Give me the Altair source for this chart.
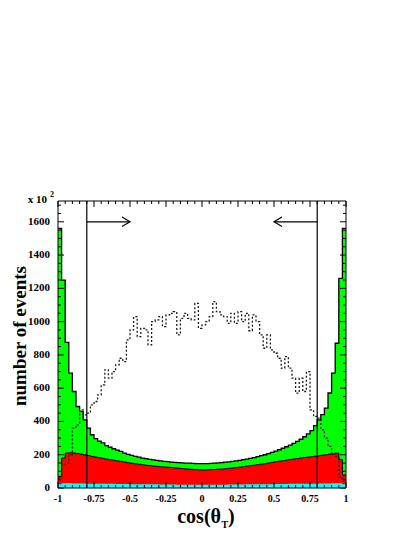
import altair as alt
import pandas as pd

# ---------------- data ----------------
n_bins = 80
x_lo, x_hi = -1.0, 1.0

total_green = [1560, 1250, 875, 690, 580, 490, 460, 410, 360, 320,
               297, 281, 271, 255, 245, 236, 228, 220, 210, 202,
               196, 190, 185, 180, 176, 172, 169, 166, 163, 160,
               158, 156, 154, 152, 151, 150, 149, 148, 147, 146,
               146, 147, 148, 149, 151, 153, 155, 157, 160, 163,
               166, 170, 174, 178, 183, 188, 194, 200, 207, 214,
               222, 230, 239, 248, 258, 268, 280, 293, 308, 325,
               345, 375, 410, 441, 480, 571, 690, 870, 1260, 1560]

red_top = [70, 180, 210, 212, 210, 207, 203, 199, 195, 190,
           186, 182, 178, 174, 170, 167, 163, 160, 156, 152,
           149, 146, 143, 140, 137, 135, 132, 130, 128, 126,
           125, 123, 121, 119, 117, 115, 113, 112, 110, 109,
           108, 109, 110, 111, 113, 114, 116, 118, 120, 122,
           125, 128, 131, 134, 137, 140, 143, 146, 150, 154,
           158, 161, 164, 167, 171, 174, 177, 180, 183, 186,
           188, 191, 194, 197, 200, 203, 205, 209, 170, 78]

cyan_top = [22, 28, 28, 28, 27, 27, 27, 27, 26, 26,
            26, 26, 25, 25, 25, 25, 24, 24, 24, 24,
            23, 23, 23, 23, 22, 22, 22, 22, 21, 21,
            21, 21, 21, 20, 20, 20, 20, 20, 20, 20,
            20, 20, 20, 20, 20, 20, 20, 21, 21, 21,
            21, 21, 22, 22, 22, 22, 23, 23, 23, 23,
            24, 24, 24, 24, 25, 25, 25, 25, 26, 26,
            26, 26, 27, 27, 27, 27, 28, 28, 28, 22]

signal_dotted = [60, 140, 150, 200, 360, 380, 470, 440, 450, 500,
                 520, 560, 620, 710, 660, 700, 740, 780, 760, 890,
                 950, 1030, 910, 960, 950, 860, 1000, 1010, 1030, 970,
                 1040, 1050, 1060, 920, 1020, 1050, 1020, 1010, 1110, 960,
                 980, 1000, 1030, 1120, 1060, 1040, 1030, 990, 1050, 990,
                 1060, 1000, 1050, 945, 1040, 1000, 920, 840, 920, 830,
                 810, 780, 720, 790, 720, 660, 570, 660, 580, 700,
                 470, 430, 420, 350, 300, 250, 210, 190, 66, 40]

cut_values = [-0.8, 0.8]
arrow_ends = [-0.5, 0.5]
arrow_level = [1600, 1600]

x_major = [-1, -0.75, -0.5, -0.25, 0, 0.25, 0.5, 0.75, 1]
x_labels = ["-1", "-0.75", "-0.5", "-0.25", "0", "0.25", "0.5", "0.75", "1"]
x_minor = [-0.95, -0.9, -0.85, -0.8, -0.7, -0.65, -0.6, -0.55,
           -0.45, -0.4, -0.35, -0.3, -0.2, -0.15, -0.1, -0.05,
           0.05, 0.1, 0.15, 0.2, 0.3, 0.35, 0.4, 0.45,
           0.55, 0.6, 0.65, 0.7, 0.8, 0.85, 0.9, 0.95]
y_major = [0, 200, 400, 600, 800, 1000, 1200, 1400, 1600]
y_labels = ["0", "200", "400", "600", "800", "1000", "1200", "1400", "1600"]
y_minor = [50, 100, 150, 250, 300, 350, 450, 500, 550, 650, 700, 750,
           850, 900, 950, 1050, 1100, 1150, 1250, 1300, 1350,
           1450, 1500, 1550, 1650, 1700]
y_max = 1725

y_title = "number of events"
x_title_main = "cos(θ"
x_title_sub = "T"
x_title_end = ")"
y_unit = "x 10"
y_unit_exp = "2"

# ---------------- helpers ----------------
W, H = 288, 287
FONT = "Liberation Serif"

bin_w = (x_hi - x_lo) / n_bins
edges = [x_lo + i * bin_w for i in range(n_bins)] + [x_hi]


def step_df(vals):
    return pd.DataFrame({"x": edges, "y": list(vals) + [vals[-1]]})


xs = alt.Scale(domain=[x_lo, x_hi], nice=False, zero=False)
ys = alt.Scale(domain=[0, y_max], nice=False, zero=True)
X = lambda f="x": alt.X(f + ":Q", scale=xs, axis=None)
Y = lambda f="y": alt.Y(f + ":Q", scale=ys, axis=None)


def area_layer(vals, color):
    return alt.Chart(step_df(vals)).mark_area(
        interpolate="step-after", color=color, opacity=1
    ).encode(x=X(), y=Y())


def line_layer(vals, color, width, dash=None):
    kw = dict(interpolate="step-after", color=color, strokeWidth=width)
    if dash:
        kw["strokeDash"] = dash
    return alt.Chart(step_df(vals)).mark_line(**kw).encode(x=X(), y=Y())


green = area_layer(total_green, "#00ff00")
green_line = line_layer(total_green, "black", 1.3)
red = area_layer(red_top, "#ff0000")
red_line = line_layer(red_top, "black", 1.0)
cyan = area_layer(cyan_top, "#00ffff")
dotted = line_layer(signal_dotted, "#1a1a1a", 1.3, dash=[2, 2])

cuts = alt.Chart(pd.DataFrame({"x": cut_values})).mark_rule(
    color="black", strokeWidth=1.2
).encode(x=X(), y=alt.value(0), y2=alt.value(H))

shafts = alt.Chart(pd.DataFrame({"x": cut_values, "x2": arrow_ends, "y": arrow_level})).mark_rule(
    color="black", strokeWidth=1.2
).encode(x=X(), x2="x2:Q", y=Y())

head_r = alt.Chart(pd.DataFrame({"x": arrow_ends[1:], "y": arrow_level[1:]})).mark_point(
    shape="M1,-0.6L0,0L1,0.6", size=256, filled=False, color="black",
    strokeWidth=1.2, opacity=1
).encode(x=X(), y=Y())

head_l = alt.Chart(pd.DataFrame({"x": arrow_ends[:1], "y": arrow_level[:1]})).mark_point(
    shape="M-1,-0.6L0,0L-1,0.6", size=256, filled=False, color="black",
    strokeWidth=1.2, opacity=1
).encode(x=X(), y=Y())


def xticks(vals, length):
    d = pd.DataFrame({"x": vals})
    bot = alt.Chart(d).mark_rule(color="black", strokeWidth=1).encode(
        x=X(), y=alt.value(H), y2=alt.value(H - length))
    top = alt.Chart(d).mark_rule(color="black", strokeWidth=1).encode(
        x=X(), y=alt.value(0), y2=alt.value(length))
    return [bot, top]


def yticks(vals, length):
    d = pd.DataFrame({"y": vals})
    left = alt.Chart(d).mark_rule(color="black", strokeWidth=1).encode(
        y=Y(), x=alt.value(0), x2=alt.value(length))
    right = alt.Chart(d).mark_rule(color="black", strokeWidth=1).encode(
        y=Y(), x=alt.value(W), x2=alt.value(W - length))
    return [left, right]


frame = alt.Chart(pd.DataFrame({"a": [0]})).mark_rect(
    fillOpacity=0, stroke="black", strokeWidth=1
).encode(x=alt.value(0), x2=alt.value(W), y=alt.value(0), y2=alt.value(H))

x_tick_labels = alt.Chart(pd.DataFrame({"x": x_major, "t": x_labels})).mark_text(
    align="center", baseline="top", font=FONT, fontWeight="bold", fontSize=10,
    color="black"
).encode(x=X(), y=alt.value(H + 6), text="t:N")

y_tick_labels = alt.Chart(pd.DataFrame({"y": y_major, "t": y_labels})).mark_text(
    align="right", baseline="middle", font=FONT, fontWeight="bold", fontSize=11,
    color="black"
).encode(y=Y(), x=alt.value(-8), text="t:N")


def text_layer(txt, x, y, size, align, angle=0):
    kw = dict(align=align, baseline="alphabetic", font=FONT, fontWeight="bold",
              fontSize=size, color="black")
    if angle:
        kw["angle"] = angle
    return alt.Chart(pd.DataFrame({"t": [txt]})).mark_text(**kw).encode(
        x=alt.value(x), y=alt.value(y), text="t:N")


texts = [
    text_layer(y_title, -32, 135, 19, "center", angle=270),
    text_layer(x_title_main, 163, 322, 20, "right"),
    text_layer(x_title_sub, 163.5, 327, 10, "left"),
    text_layer(x_title_end, 170, 322, 20, "left"),
    text_layer(y_unit, -11, 2, 11, "right"),
    text_layer(y_unit_exp, -8, -4, 8, "left"),
]

layers = [green, red, cyan, green_line, red_line, dotted, cuts, shafts, head_l, head_r]
layers += xticks(x_major, 6) + xticks(x_minor, 3) + yticks(y_major, 6) + yticks(y_minor, 3)
layers += [frame, x_tick_labels, y_tick_labels] + texts

chart = alt.layer(*layers).properties(
    width=W, height=H,
    autosize=alt.AutoSizeParams(type="none"),
    padding={"left": 50, "top": 193, "right": 53, "bottom": 41},
    background="white",
).configure_view(strokeWidth=0)

chart.save("out.html", embed_options={"renderer": "svg", "actions": False})
